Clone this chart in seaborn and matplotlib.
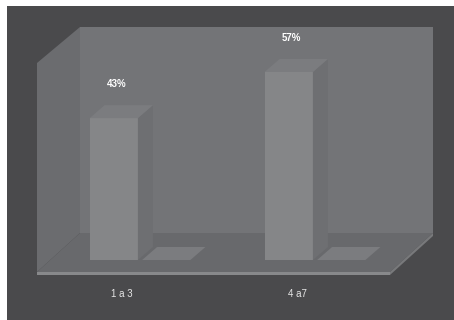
import numpy as np
import pandas as pd
import matplotlib
matplotlib.use("Agg")
import matplotlib.pyplot as plt
from matplotlib.patches import Polygon, Rectangle
from matplotlib.transforms import ScaledTranslation
import seaborn as sns

# data
categorias = ["1 a 3", "4 a7"]
serie_1 = [43, 57]
serie_2 = [0, 0]
rotulos = ["43%", "57%"]

df = pd.DataFrame({
    "grupo": categorias * 2,
    "valor": serie_1 + serie_2,
    "serie": ["serie 1"] * len(categorias) + ["serie 2"] * len(categorias),
})

sns.set_style("white")
plt.rcParams["font.family"] = ["Liberation Sans", "DejaVu Sans"]

W, H, DPI = 454, 320, 100
fig = plt.figure(figsize=(W / DPI, H / DPI), dpi=DPI, facecolor="white")

def px(x, y):
    # pixel (from top-left) -> figure fraction
    return (x / W, 1 - y / H)

def poly(pts, color, z=0, ec="none"):
    p = Polygon([px(*q) for q in pts], closed=True, transform=fig.transFigure,
                facecolor=color, edgecolor=ec, lw=0.6, zorder=z)
    fig.add_artist(p)

# dark frame
fig.add_artist(Rectangle(px(7, 320), (W - 7) / W, (320 - 6) / H,
                         transform=fig.transFigure, facecolor="#4a4a4c",
                         edgecolor="none", zorder=-10))

# 3d box: back wall, left wall, floor
poly([(80, 27), (433, 27), (433, 233), (80, 233)], "#737477", z=-9)
poly([(37, 63), (80, 27), (80, 233), (37, 272)], "#6b6c6f", z=-9)
poly([(37, 272), (390, 272), (433, 233), (80, 233)], "#68696c", z=-9)
poly([(37, 272), (390, 272), (390, 275), (37, 275)], "#88898b", z=-9)
poly([(390, 272), (433, 233), (433, 236), (390, 275)], "#78797b", z=-9)

# axes on the front plane of the bars
ax = fig.add_axes([37 / W, (320 - 260) / H, 353 / W, 197 / H])
ax.patch.set_alpha(0)
sns.barplot(data=df, x="grupo", y="valor", hue="serie", ax=ax,
            palette=["#858688", "#858688"], width=0.6, gap=0.08,
            legend=False, saturation=1, linewidth=0, edgecolor="none", zorder=3)
ax.set_ylim(0, 57 * 197 / 188)
ax.set_xlim(-103 / 175, 250 / 175)
sns.despine(ax=ax, left=True, bottom=True)
ax.set_yticks([])
ax.set_xlabel("")
ax.set_ylabel("")
ax.tick_params(axis="x", length=0, pad=21, labelsize=7, labelcolor="#e6e6e6")
for lab in ax.get_xticklabels():
    lab.set_transform(lab.get_transform() + ScaledTranslation(-0.18, 0, fig.dpi_scale_trans))

# fake depth on each bar, built from the bar patches
dx, dy = 15, 13
fig.canvas.draw()
inv = fig.transFigure.inverted()
for bar in ax.patches:
    x0, y0 = bar.get_x(), bar.get_y()
    x1, y1 = x0 + bar.get_width(), y0 + bar.get_height()
    (X0, Y0), (X1, Y1) = ax.transData.transform([(x0, y0), (x1, y1)])
    side = [(X1, Y0), (X1, Y1), (X1 + dx, Y1 + dy), (X1 + dx, Y0 + dy)]
    top = [(X0, Y1), (X1, Y1), (X1 + dx, Y1 + dy), (X0 + dx, Y1 + dy)]
    for pts, col in [(side, "#6e6f72"), (top, "#7b7c7f")]:
        p = Polygon(inv.transform(pts), closed=True, transform=fig.transFigure,
                    facecolor=col, edgecolor="none", zorder=1)
        fig.add_artist(p)
    bar.set_zorder(2)

# value labels over the first series
for i, (v, r) in enumerate(zip(serie_1, rotulos)):
    bar = ax.patches[i]
    cx = bar.get_x() + bar.get_width() / 2 + 0.015
    ax.text(cx, v + 10.3, r, ha="center", va="center", fontsize=7,
            color="white", fontweight="bold", zorder=5)

fig.savefig("out.png", dpi=DPI, facecolor=fig.get_facecolor())
